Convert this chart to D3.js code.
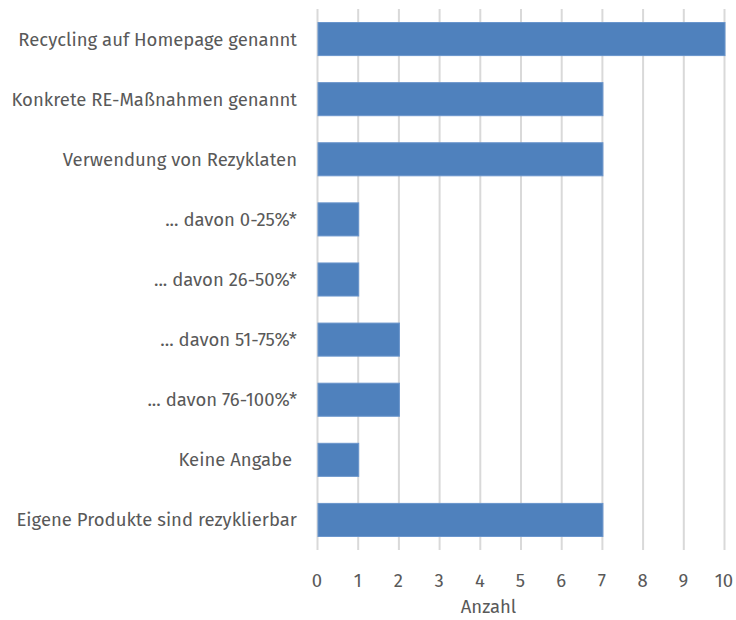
<!DOCTYPE html>
<html><head><meta charset="utf-8">
<script src="https://cdn.jsdelivr.net/npm/d3@7"></script>
<style>body{margin:0;background:#fff}</style>
</head><body>
<svg id="c" width="736" height="620"></svg>
<script>
const categories = ["Recycling auf Homepage genannt","Konkrete RE-Maßnahmen genannt","Verwendung von Rezyklaten","... davon 0-25%*","... davon 26-50%*","... davon 51-75%*","... davon 76-100%*","Keine Angabe ","Eigene Produkte sind rezyklierbar"];
const values = [10,7,7,1,1,2,2,1,7];
const xTicks = [0,1,2,3,4,5,6,7,8,9,10];
const xTitle = "Anzahl";

(function(){
const svg = d3.select("#c");
const font = "'Fira Sans','Noto Sans',sans-serif";
const fs = 18.5;
const pL = 317, pR = 724, pT = 9, pB = 550;
const x = d3.scaleLinear().domain([0,10]).range([pL,pR]);
const y = d3.scaleBand().domain(categories).range([pT,pB]).paddingInner(0.45).paddingOuter(0.225);

svg.append("g").selectAll("line").data(xTicks).join("line")
  .attr("x1",d=>x(d)+0.5).attr("x2",d=>x(d)+0.5)
  .attr("y1",pT).attr("y2",pB)
  .attr("stroke","#d9d9d9").attr("stroke-width",2);

svg.append("g").selectAll("rect").data(values).join("rect")
  .attr("x",x(0)+1).attr("y",(d,i)=>y(categories[i]))
  .attr("width",d=>x(d)-x(0)).attr("height",y.bandwidth())
  .attr("fill","#4f81bd").attr("stroke","#6a95cc").attr("stroke-width",1);

svg.append("g").selectAll("text").data(categories).join("text")
  .attr("x",297).attr("y",d=>y(d)+y.bandwidth()/2)
  .attr("dy","0.35em").attr("text-anchor","end")
  .attr("font-family",font).attr("font-size",fs).attr("fill","#595959")
  .style("white-space","pre")
  .text(d=>d);

svg.append("g").selectAll("text").data(xTicks).join("text")
  .attr("x",d=>x(d)).attr("y",581).attr("dy","0.35em").attr("text-anchor","middle")
  .attr("font-family",font).attr("font-size",fs).attr("fill","#595959")
  .text(d=>d);

svg.append("text").attr("x",(pL+pR)/2 - 32).attr("y",607).attr("dy","0.35em")
  .attr("text-anchor","middle").attr("font-family",font).attr("font-size",fs).attr("fill","#595959")
  .text(xTitle);
})();
</script>
</body></html>
